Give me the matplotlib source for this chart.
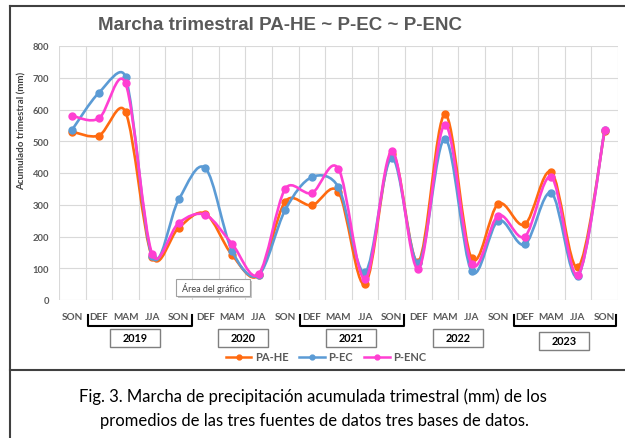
import numpy as np
import matplotlib
matplotlib.use("Agg")
import matplotlib.pyplot as plt
from matplotlib.path import Path
from matplotlib.patches import PathPatch, Rectangle, FancyBboxPatch
from matplotlib.lines import Line2D
import matplotlib.transforms as mtransforms

# ---------------- data ----------------
seasons = ["SON", "DEF", "MAM", "JJA", "SON", "DEF", "MAM", "JJA", "SON", "DEF", "MAM",
           "JJA", "SON", "DEF", "MAM", "JJA", "SON", "DEF", "MAM", "JJA", "SON"]
pa_he = [530, 518, 592, 136, 228, 272, 142, 78, 310, 298, 340, 50, 460, 121, 585, 131, 303, 238, 403, 103, 532]
p_ec = [537, 653, 702, 138, 317, 415, 155, 79, 284, 387, 355, 87, 448, 117, 508, 90, 250, 175, 337, 75, 537]
p_enc = [580, 572, 682, 145, 243, 268, 177, 82, 350, 337, 413, 66, 468, 98, 552, 113, 266, 200, 387, 79, 536]
series_names = ["PA-HE", "P-EC", "P-ENC"]
series_colors = ["#FF6A10", "#5B9BD5", "#FF3FD2"]
years = ["2019", "2020", "2021", "2022", "2023"]
year_centers = [2.37, 6.41, 10.47, 14.5, 18.47]
brackets = [(0.6, 4.5), (8.55, 12.46), (16.6, 20.42)]

title = "Marcha trimestral PA-HE ~ P-EC ~ P-ENC"
ylabel = "Acumulado trimestral (mm)"
caption1 = "Fig. 3. Marcha de precipitación acumulada trimestral (mm) de los"
caption2 = "promedios de las tres fuentes de datos tres bases de datos."

W, H = 625, 439
fig = plt.figure(figsize=(W / 100, H / 100), dpi=100)
fig.patch.set_facecolor("white")


def fx(px):
    return px / W


def fy(py):
    return 1 - py / H


ax = fig.add_axes([fx(59), fy(301), fx(618) - fx(59), fy(47) - fy(301)])
ax.set_xlim(-0.5, 20.5)
ax.set_ylim(0, 800)
for s in ax.spines.values():
    s.set_visible(False)

gray = "#595959"
ax.set_yticks(range(0, 801, 100))
ax.set_yticklabels([str(v) for v in range(0, 801, 100)], fontsize=6.8,
                   fontweight="bold", color=gray, family="Lato")
ax.set_xticks(range(len(seasons)))
ax.set_xticklabels(seasons, fontsize=7.2, fontweight="bold", color=gray, family="Lato")
ax.set_xticks(np.arange(-0.5, len(seasons), 1), minor=True)
ax.tick_params(axis="both", which="both", length=0)
ax.tick_params(axis="x", pad=9)
ax.tick_params(axis="y", pad=7)
ax.yaxis.grid(True, color="#D9D9D9", lw=0.8)
ax.xaxis.grid(True, which="minor", color="#D9D9D9", lw=0.8)
ax.set_axisbelow(True)


def smooth_path(xs, ys):
    """Excel-like smoothed line: Bezier segments with control arms (1/6 of the
    neighbour chord) capped at half the segment length, in screen space."""
    disp = ax.transData.transform(np.column_stack([xs, ys]).astype(float))
    n = len(disp)
    verts = [disp[0]]
    codes = [Path.MOVETO]
    for i in range(n - 1):
        p0 = disp[i - 1] if i > 0 else disp[i]
        p1 = disp[i]
        p2 = disp[i + 1]
        p3 = disp[i + 2] if i + 2 < n else disp[i + 1]
        seg = np.hypot(*(p2 - p1))
        a1 = (p2 - p0) / 6.0
        a2 = (p3 - p1) / 6.0
        for a in (a1, a2):
            la = np.hypot(*a)
            if la > seg / 2 and la > 0:
                a *= (seg / 2) / la
        verts += [p1 + a1, p2 - a2, p2]
        codes += [Path.CURVE4] * 3
    verts = ax.transData.inverted().transform(np.array(verts))
    return Path(verts, codes)


x = np.arange(len(seasons))
for z, (vals, col) in enumerate(zip([pa_he, p_ec, p_enc], series_colors)):
    pp = PathPatch(smooth_path(x, vals), fill=False, edgecolor=col, lw=1.9,
                   capstyle="round", joinstyle="round", zorder=3 + z, clip_on=False)
    ax.add_patch(pp)
    ax.plot(x, vals, "o", color=col, ms=5, zorder=3 + z, clip_on=False)

# year brackets and boxes
trans = mtransforms.blended_transform_factory(ax.transData, fig.transFigure)
for a, b in brackets:
    fig.add_artist(Line2D([a, a, b, b], [fy(316), fy(327), fy(327), fy(316)],
                          transform=trans, color="black", lw=1.5))
bw = 50 / 26.62
for yr, c in zip(years, year_centers):
    top, bot = (333, 351) if yr == "2023" else (330, 348)
    fig.add_artist(Rectangle((c - bw / 2, fy(bot)), bw, fy(top) - fy(bot), transform=trans,
                             facecolor="white", edgecolor="#7F7F7F", lw=1))
    fig.text(c, fy((top + bot) / 2), yr, transform=trans, ha="center", va="center",
             fontsize=7.8, fontweight="bold", color="black", family="Lato")

# legend
handles = [Line2D([], [], color=c, lw=1.8, marker="o", ms=3.5) for c in series_colors]
leg = fig.legend(handles, series_names, loc="center", bbox_to_anchor=(fx(326), fy(358)),
                 ncol=3, frameon=False, handlelength=2.3, columnspacing=1.0,
                 handletextpad=0.3, labelcolor=gray,
                 prop={"family": "Lato", "weight": "bold", "size": 8})

# title and y label
fig.text(fx(280), fy(25), title, ha="center", va="center", fontsize=13.5,
         fontweight="bold", color=gray, family="Liberation Sans")
fig.text(fx(22), fy(131), ylabel, rotation=90, ha="center", va="center",
         fontsize=7, fontweight="bold", color="#404040", family="Lato")

# tooltip artifact
fig.add_artist(FancyBboxPatch((fx(178), fy(299)), fx(250) - fx(176), fy(280) - fy(297),
                              boxstyle="square,pad=0", facecolor="#C8C8C8", edgecolor="none",
                              transform=fig.transFigure))
fig.add_artist(FancyBboxPatch((fx(176), fy(297)), fx(250) - fx(176), fy(280) - fy(297),
                              boxstyle="square,pad=0", facecolor="white", edgecolor="#A0A0A0",
                              lw=0.8, transform=fig.transFigure))
fig.text(fx(213), fy(288.5), "Área del gráfico", ha="center", va="center",
         fontsize=6.5, color="#404040", family="Lato")

# frame lines
fig.add_artist(Line2D([fx(10), fx(625)], [fy(7), fy(7)], color="#404040", lw=1.5))
fig.add_artist(Line2D([fx(10), fx(10)], [fy(7), fy(439)], color="#404040", lw=1.5))
fig.add_artist(Line2D([fx(10), fx(625)], [fy(371), fy(371)], color="#404040", lw=1.5))

# caption
fig.text(fx(313), fy(397), caption1, ha="center", va="center", fontsize=12,
         color="black", family="Lato")
fig.text(fx(314), fy(421), caption2, ha="center", va="center", fontsize=12,
         color="black", family="Lato")

fig.savefig("out.png", dpi=100)
